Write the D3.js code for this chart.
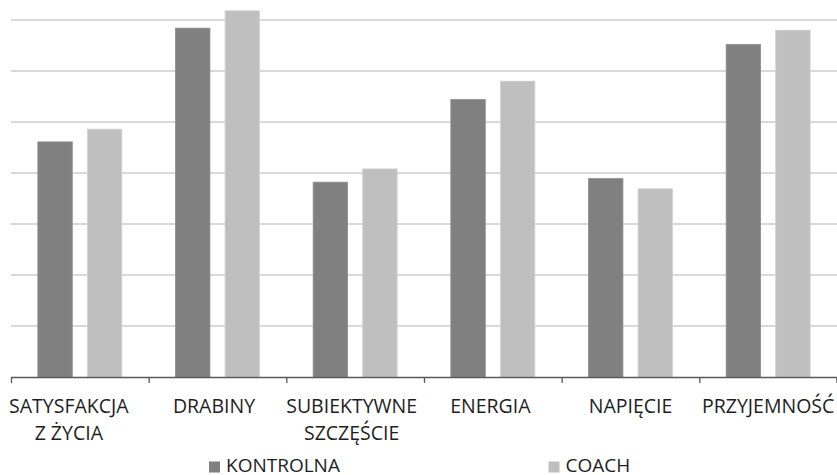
<!DOCTYPE html>
<html>
<head>
<meta charset="utf-8">
<script src="https://cdn.jsdelivr.net/npm/d3@7"></script>
<style>
  html, body { margin: 0; padding: 0; background: #fff; }
  svg { display: block; }
  text { font-family: "Open Sans", sans-serif; fill: #1e1e1e; }
</style>
</head>
<body>
<svg id="chart" width="837" height="475"></svg>
<script>
// Category labels (multi-line labels split on "\n")
const categories = [
  "SATYSFAKCJA\nZ ŻYCIA",
  "DRABINY",
  "SUBIEKTYWNE\nSZCZĘŚCIE",
  "ENERGIA",
  "NAPIĘCIE",
  "PRZYJEMNOŚĆ"
];
const seriesNames = ["KONTROLNA", "COACH"];
const kontrolna = [4.61, 6.84, 3.82, 5.44, 3.89, 6.52];
const coach     = [4.86, 7.18, 4.08, 5.80, 3.69, 6.80];
const gridTicks = [0, 1, 2, 3, 4, 5, 6, 7];
const colors = ["#808080", "#bfbfbf"];

const svg = d3.select("#chart");
const plotLeft = 11, plotRight = 837, plotTop = 20, plotBottom = 377;
// small horizontal nudges for the category labels (px)
const labelNudge = [-11, -3.5, -3.5, -2.5, 0, 0];

const x = d3.scaleBand().domain(categories).range([plotLeft, plotRight]).padding(0);
const y = d3.scaleLinear().domain([0, 7]).range([plotBottom, plotTop]);

// Horizontal gridlines
svg.append("g")
  .selectAll("line")
  .data(gridTicks.slice(1))
  .join("line")
  .attr("x1", plotLeft).attr("x2", plotRight)
  .attr("y1", d => y(d)).attr("y2", d => y(d))
  .attr("stroke", "#d9d9d9")
  .attr("stroke-width", 1.8);

// Bars: two per category
const bw = x.bandwidth();
const barW = bw * 0.25;
const innerGap = bw * 0.11;
const offset = (bw - 2 * barW - innerGap) / 2;
const series = [kontrolna, coach];

series.forEach((vals, s) => {
  svg.append("g")
    .selectAll("rect")
    .data(vals)
    .join("rect")
    .attr("x", (d, i) => x(categories[i]) + offset + s * (barW + innerGap))
    .attr("y", d => y(d))
    .attr("width", barW)
    .attr("height", d => y(0) - y(d))
    .attr("fill", colors[s])
    .attr("stroke", d3.color(colors[s]).brighter(0.25))
    .attr("stroke-width", 0.8);
});

// Category axis with ticks between categories
const axisG = svg.append("g");
axisG.append("line")
  .attr("x1", plotLeft).attr("x2", plotRight)
  .attr("y1", plotBottom + 0.5).attr("y2", plotBottom + 0.5)
  .attr("stroke", "#595959").attr("stroke-width", 1.3);
const edges = categories.map(c => x(c)).concat([plotRight - 0.6]);
axisG.selectAll("line.tick")
  .data(edges)
  .join("line")
  .attr("class", "tick")
  .attr("x1", d => d + 0.5).attr("x2", d => d + 0.5)
  .attr("y1", plotBottom).attr("y2", plotBottom + 6)
  .attr("stroke", "#595959").attr("stroke-width", 1.3);

// Category labels
const labels = axisG.selectAll("text.cat")
  .data(categories)
  .join("text")
  .attr("class", "cat")
  .attr("text-anchor", "middle")
  .attr("font-size", 19.5)
  .attr("y", 412.5);
labels.each(function(d, i) {
  const t = d3.select(this);
  const cx = x(d) + bw / 2 + labelNudge[i];
  d.split("\n").forEach((line, k) => {
    t.append("tspan").attr("x", cx).attr("y", 412.5 + k * 27.5).text(line);
  });
});

// Legend
const legendX = [209, 548.5];
const legend = svg.append("g");
seriesNames.forEach((name, s) => {
  legend.append("rect")
    .attr("x", legendX[s]).attr("y", 461.5)
    .attr("width", 11).attr("height", 11)
    .attr("fill", colors[s]);
  legend.append("text")
    .attr("x", legendX[s] + 17).attr("y", 472)
    .attr("font-size", 19)
    .text(name);
});
</script>
</body>
</html>
